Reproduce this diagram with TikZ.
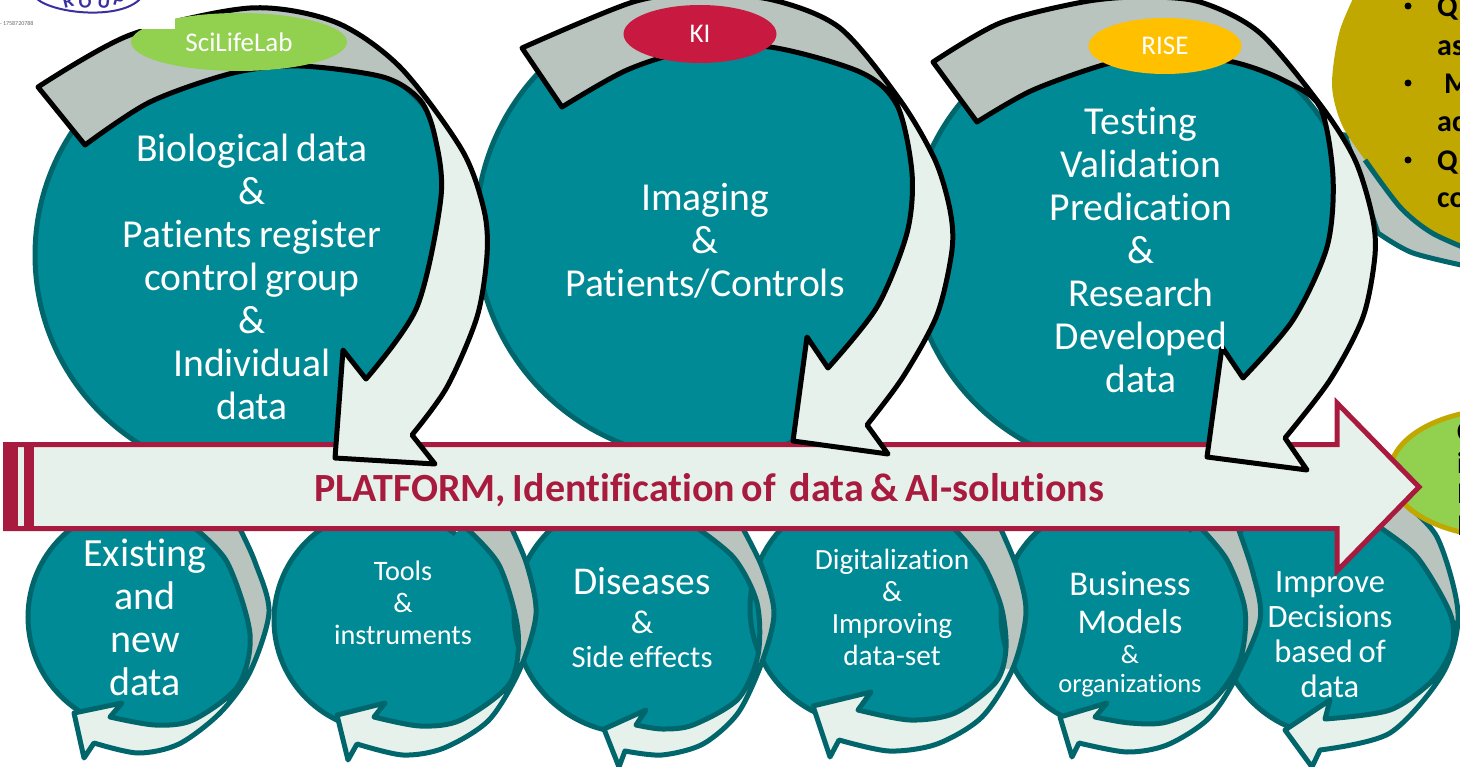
\documentclass[tikz,border=0pt]{standalone}
\usepackage{fontspec}
\setmainfont[Ligatures=NoCommon,WordSpace=0.75]{Carlito}
\definecolor{tealfill}{HTML}{008A96}
\definecolor{tealline}{HTML}{00666C}
\definecolor{bandgray}{HTML}{B9C4BE}
\definecolor{palegreen}{HTML}{E5F1EA}
\definecolor{crimson}{HTML}{A91B3E}
\definecolor{limeg}{HTML}{92D050}
\definecolor{kired}{HTML}{C81A41}
\definecolor{riseamber}{HTML}{FFC000}
\definecolor{oliveg}{HTML}{C0A800}
\definecolor{logopurple}{HTML}{3A2F9E}
\usetikzlibrary{shapes.geometric}
\tikzset{
  bigcirc/.style={fill=tealfill,draw=tealline,line width=5pt},
  smallcirc/.style={fill=tealfill,draw=tealline,line width=5pt},
  bigrib/.style={draw=black,line width=5pt,line join=round},
  smallrib/.style={draw=tealline,line width=5pt,line join=round},
  tag/.style={ellipse,draw=none,inner sep=0pt,text=white,font=\fontsize{27}{30}\selectfont},
  lab/.style={text=white,align=center,inner sep=0pt},
  fsBig/.style={font=\fontsize{39.6}{43}\selectfont},
  logoch/.style={text=logopurple,inner sep=0pt,font=\bfseries\fontsize{19}{19}\selectfont},
  blk/.style={text=black,inner sep=0pt,font=\bfseries\fontsize{30}{32}\selectfont,anchor=base west},
}
% style, outer curve, head corners, inner curve, clip region holding the gray part
\newcommand{\Ribbon}[5]{%
  \fill[palegreen] plot[smooth] coordinates {#2} #3 -- plot[smooth] coordinates {#4} -- cycle;
  \begin{scope}
    \clip #5;
    \fill[bandgray] plot[smooth] coordinates {#2} #3 -- plot[smooth] coordinates {#4} -- cycle;
  \end{scope}
  \draw[#1] plot[smooth] coordinates {#2} #3 -- plot[smooth] coordinates {#4} -- cycle;
}
% teal filling between a circle's centre and the inner curve of its ribbon
\newcommand{\Patch}[2]{\fill[tealfill] #1 -- plot[smooth] coordinates {#2} -- cycle;}
\begin{document}
\begin{tikzpicture}[x=1pt,y=-1pt]
\useasboundingbox (0,0) rectangle (1460,767);
% olive block, top right
\draw[fill=bandgray,draw=tealline,line width=5pt] (1345,135) -- plot[smooth] coordinates {(1378,233) (1413,253) (1475,268)} -- (1475,150) -- cycle;
\fill[oliveg] plot[smooth] coordinates {(1362,-20) (1340,30) (1332,85) (1342,125) (1365,160) (1400,207) (1432,233) (1475,252)} -- (1475,-20) -- cycle;
\draw[tealline,line width=5pt] plot[smooth] coordinates {(1365,160) (1400,207) (1432,233) (1475,252)};
\fill (1408,6) circle (3.5);
\fill (1408,83) circle (3.5);
\fill (1408,160) circle (3.5);
\node[blk] (q1) at (1437,17) {Q};
\node[blk] (q2) at (1437,56) {as};
\node[blk] (q3) at (1444,94) {M};
\node[blk] (q4) at (1437,132) {ac};
\node[blk] (q5) at (1437,171) {Q};
\node[blk] (q6) at (1437,208) {co};
% big circles
\draw[bigcirc] (258,255) circle (223);
\draw[bigcirc] (705,230) circle (229);
\draw[bigcirc] (1135,245) circle (225);
% small circles
\draw[smallcirc] (1330,610) ellipse [x radius=115,y radius=125];
\Patch{(1330,610)}{(1325,719) (1390,710) (1433,680) (1452,647) (1450,613) (1417,557) (1377,525) (1360,510)}
\draw[smallcirc] (140,617) circle (112);
\Patch{(140,617)}{(110,717) (155,725) (193,720) (238,686) (250,634) (227,562) (191,525)}
\draw[smallcirc] (385,620) circle (111);
\Patch{(385,620)}{(374,717) (420,726) (461,720) (510,683) (518,631) (499,565) (463,525)}
\draw[smallcirc] (632,615) circle (118);
\Patch{(632,615)}{(636,725) (662,729) (693,725) (738,699) (758,655) (757,603) (734,558) (693,525)}
\draw[smallcirc] (866,608) circle (116);
\Patch{(866,608)}{(858,710) (910,720) (955,713) (996,682) (1006,648) (1001,606) (982,562) (951,525)}
\draw[smallcirc] (1115,615) circle (114);
\Patch{(1115,615)}{(1095,717) (1130,723) (1167,722) (1213,700) (1240,660) (1245,610) (1227,560) (1198,525)}
% small ribbons
\Ribbon{smallrib}{(238,525) (255,562) (269,612) (250,672) (220,713) (179,744) (138,753) (94,743)}{-- (84,758) -- (74,713) -- (122,703)}{(110,717) (155,725) (193,720) (238,686) (250,634) (227,562) (191,525)}{(325,672) rectangle (-55,472)}
\Ribbon{smallrib}{(510,525) (527,565) (536,614) (520,669) (489,720) (444,748) (403,755) (357,744)}{-- (348,760) -- (337,715) -- (385,703)}{(374,717) (420,726) (461,720) (510,683) (518,631) (499,565) (463,525)}{(600,669) rectangle (220,469)}
\Ribbon{smallrib}{(741,525) (762,567) (774,613) (762,662) (738,713) (703,744) (662,755) (625,751)}{-- (619,767) -- (604,729) -- (646,710)}{(636,725) (662,729) (693,725) (738,699) (758,655) (757,603) (734,558) (693,525)}{(842,660) rectangle (462,460)}
\Ribbon{smallrib}{(999,525) (1017,568) (1026,613) (1013,668) (982,717) (937,744) (889,751) (839,740)}{-- (830,757) -- (813,706) -- (871,692)}{(858,710) (910,720) (955,713) (996,682) (1006,648) (1001,606) (982,562) (951,525)}{(1093,668) rectangle (713,468)}
\Ribbon{smallrib}{(1237,525) (1253,573) (1260,620) (1233,683) (1207,720) (1167,745) (1127,752) (1079,743)}{-- (1072,757) -- (1060,717) -- (1107,703)}{(1095,717) (1130,723) (1167,722) (1213,700) (1240,660) (1245,610) (1227,560) (1198,525)}{(1320,672) rectangle (940,472)}
\Ribbon{smallrib}{(1400,500) (1437,537) (1458,613) (1443,673) (1390,733) (1320,750)}{-- (1312,767) -- (1285,730) -- (1330,700)}{(1325,719) (1390,710) (1433,680) (1452,647) (1450,613) (1417,557) (1377,525) (1360,510)}{(1532,640) rectangle (1152,440)}
% green ellipse right
\node[ellipse,draw=oliveg,fill=limeg,line width=5pt,minimum width=230pt,minimum height=128pt,inner sep=0pt] (outcome) at (1505,473) {};
\node[blk] (g1) at (1457,442) {C};
\node[blk] (g2) at (1457,473) {i};
\node[blk] (g3) at (1457,503) {I};
\node[blk] (g4) at (1457,535) {I};
% platform arrow
\draw[crimson,line width=5pt,fill=palegreen,miter limit=10] (5.5,444.5) -- (1337,444.5) -- (1337,403) -- (1419,487) -- (1337,571) -- (1337,528.5) -- (5.5,528.5) -- cycle;
\fill[crimson] (3,442) rectangle (18,531);
\fill[crimson] (24,442) rectangle (34,531);
\node[text=crimson,inner sep=0pt,font=\bfseries\fontsize{40}{42}\selectfont] (platform) at (709,490) {PLATFORM, Identification of \ data \& AI-solutions};
% big ribbons
\Ribbon{bigrib}{(933,62) (1000,23) (1083,2) (1140,-3) (1200,2) (1260,33) (1322,107) (1355,160) (1372,215) (1375,255) (1363,317) (1330,380) (1285,438)}{-- (1307,470) -- (1207,457) -- (1222,347)}{(1243,378) (1293,320) (1327,247) (1333,177) (1320,107) (1283,80) (1233,62) (1167,55) (1110,63) (1033,90) (977,122)}{(1322,107) -- (1382,-60) -- (622,-60) -- (622,737) -- cycle}
\Ribbon{bigrib}{(522,48) (633,2) (700,-6) (773,0) (840,28) (900,100) (935,160) (950,210) (952,250) (937,315) (903,377) (867,425)}{-- (888,454) -- (793,441) -- (807,337)}{(828,368) (877,307) (907,233) (912,173) (897,105) (860,72) (770,47) (693,50) (627,70) (562,107)}{(900,102) -- (960,-60) -- (200,-60) -- (200,732) -- cycle}
\Ribbon{bigrib}{(38,87) (130,35) (250,8) (335,22) (400,67) (462,150) (484,210) (487,255) (477,317) (447,387) (412,435)}{-- (435,464) -- (335,458) -- (343,350)}{(366,379) (417,307) (441,197) (435,137) (420,100) (383,77) (300,66) (233,73) (150,102) (85,145)}{(425,105) -- (485,-60) -- (-275,-60) -- (-275,735) -- cycle}
% tags
\node[tag,fill=limeg,minimum width=216pt,minimum height=58pt] (scilife) at (239,42) {SciLifeLab};
\node[tag,fill=kired,minimum width=153pt,minimum height=58pt] (ki) at (700,34) {KI};
\node[tag,fill=riseamber,minimum width=153pt,minimum height=56pt] (rise) at (1165,46) {RISE};
% logo remnant
\fill[white] (0,0) rectangle (175,29);
\draw[logopurple,line width=2pt] (37,-1) .. controls (55,14) and (120,20) .. (140,-1);
\node[logoch,rotate=14] (lr) at (68,1) {R};
\node[logoch,rotate=4] (lo) at (85,2) {O};
\node[logoch,rotate=-6] (lu) at (104,2) {U};
\node[logoch,rotate=-16] (lp) at (119,0) {P};
\node[inner sep=0pt,anchor=west,text=black!60,font=\fontsize{6}{7}\selectfont] (phone) at (0,23) {- 1758720788};
% labels
\node[lab,fsBig] (b1) at (252,277) {Biological data\\\&\\Patients register\\control group\\\&\\Individual\\data};
\node[lab,fsBig] (b2) at (705,241) {Imaging\\\&\\Patients/Controls};
\node[lab,fsBig] (b3) at (1141,250) {Testing\\Validation\\Predication\\\&\\Research\\Developed\\data};
\node[lab,font=\fontsize{40}{43}\selectfont] (s1) at (145,617) {Existing\\and\\new\\data};
\node[lab,font=\fontsize{28.2}{32}\selectfont] (s2) at (403,603) {Tools\\\&\\instruments};
\node[lab,font=\fontsize{39.4}{40}\selectfont] (s3a) at (642,581) {Diseases};
\node[lab,font=\fontsize{33}{36}\selectfont] (s3b) at (642,622) {\&};
\node[lab,font=\fontsize{30.7}{36}\selectfont] (s3c) at (642,657) {Side effects};
\node[lab,font=\fontsize{29.3}{32}\selectfont] (s4) at (892,607) {Digitalization\\\&\\Improving\\data-set};
\node[lab,font=\fontsize{34.7}{38}\selectfont] (s5a) at (1130,603) {Business\\Models};
\node[lab,font=\fontsize{26.5}{29}\selectfont] (s5b) at (1130,671) {\&\\organizations};
\node[lab,font=\fontsize{32.6}{35}\selectfont] (s6) at (1330,635) {Improve\\Decisions\\based of\\data};
\end{tikzpicture}
\end{document}
